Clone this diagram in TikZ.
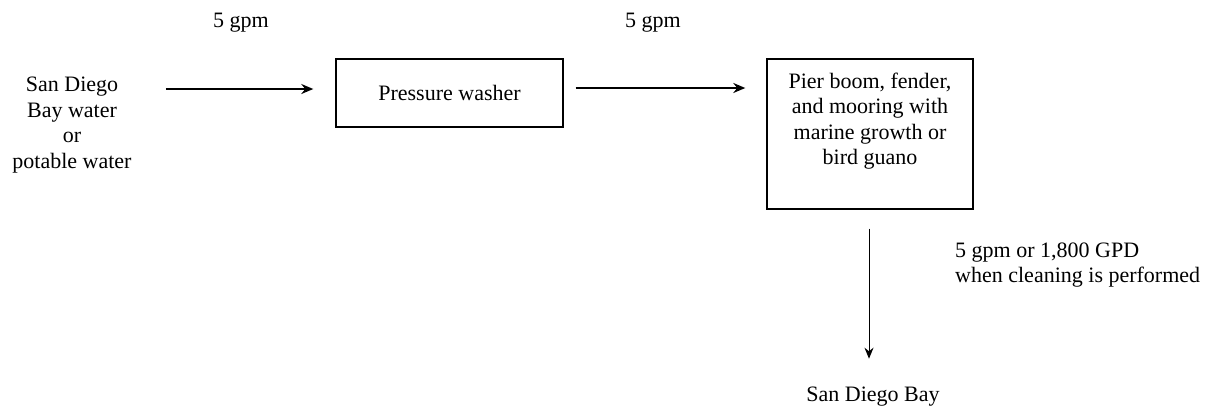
\documentclass[tikz,border=0pt]{standalone}
\usepackage{fontspec}
\setmainfont{Liberation Serif}
\usetikzlibrary{arrows.meta}
\begin{document}
\begin{tikzpicture}[x=1pt,y=-1pt,
  txt/.style={inner sep=0pt, font=\fontsize{22}{25.5}\selectfont, align=center},
  box/.style={draw, line width=1.4pt, inner sep=0pt},
  arr/.style={line width=1.8pt, -{Stealth[length=12pt,width=10pt]}},
  varr/.style={line width=1pt, -{Stealth[length=11pt,width=9pt]}}]
\useasboundingbox (0,0) rectangle (1218,410);
% labels
\node[txt] (q1) at (241,23) {5 gpm};
\node[txt] (q2) at (653,23) {5 gpm};
% source
\node[txt] (src) at (72,125) {San Diego\\Bay water\\or\\potable water};
% pressure washer
\node[box, minimum width=227pt, minimum height=68pt, font=\fontsize{22}{25.5}\selectfont] (pw) at (449.5,93) {Pressure washer};
% pier box
\node[box, minimum width=206pt, minimum height=150pt] (pier) at (870,134) {};
\node[txt] (piertxt) at (870,121) {Pier boom, fender,\\and mooring with\\marine growth or\\bird guano};
% bay
\node[txt] (bay) at (873,397) {San Diego Bay};
% flow label
\node[txt, anchor=west, align=left] (flow) at (955,265) {5 gpm or 1,800 GPD\\when cleaning is performed};
% arrows
\draw[arr] ([xshift=34pt, yshift=4pt]src.east |- pw.west) -- ([xshift=-22pt, yshift=4pt]pw.west);
\draw[arr] ([xshift=12pt, yshift=5pt]pw.east) -- ([xshift=-21pt, yshift=5pt]pier.west |- pw.east);
\draw[varr] ([xshift=-1pt, yshift=-19pt]pier.south) -- ([xshift=-1pt, yshift=-149pt]pier.south);
\end{tikzpicture}
\end{document}
